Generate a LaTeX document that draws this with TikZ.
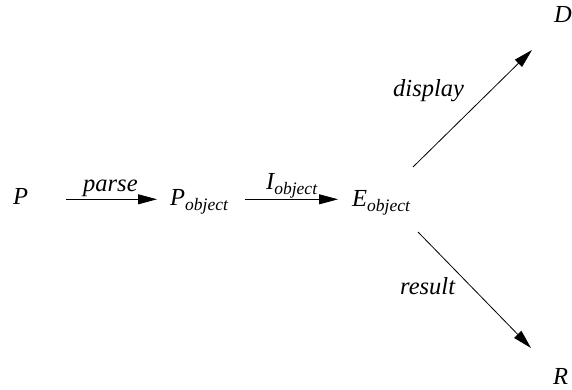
\documentclass[tikz,border=0pt]{standalone}
\usepackage{fontspec}
\setmainfont{Liberation Serif}
\usetikzlibrary{arrows.meta}
\newcommand\subobj[1]{\raisebox{-5pt}{\fontsize{17.5}{20}\selectfont #1}}
\tikzset{
  lbl/.style={anchor=base west, inner sep=0pt, font=\fontsize{24.5}{28}\selectfont\itshape},
  conn/.style={line width=0.8pt, -{Triangle[length=19pt,width=10pt]}}
}
\begin{document}
\begin{tikzpicture}[x=1pt,y=1pt]
\useasboundingbox (0,0) rectangle (572,390);
% nodes
\node[lbl] (P) at (13,185) {P};
\node[lbl] (parse) at (83,198) {parse};
\node[lbl] (Pobj) at (170,184) {P\subobj{object}};
\node[lbl] (Iobj) at (266,200) {I\subobj{object}};
\node[lbl] (Eobj) at (352,183) {E\subobj{object}};
\node[lbl] (display) at (393,293) {display};
\node[lbl] (result) at (400,95) {result};
\node[lbl] (D) at (554,367) {D};
\node[lbl] (R) at (553,5) {R};
% connector end points
\coordinate (a1) at (66,190.7);
\coordinate (a2) at (157,190.7);
\coordinate (b1) at (245,190.7);
\coordinate (b2) at (338,190.7);
\coordinate (c1) at (413,223);
\coordinate (c2) at (532,340);
\coordinate (d1) at (418,158);
\coordinate (d2) at (531,42);
% connectors
\draw[conn] (a1) -- (a2);
\draw[conn] (b1) -- (b2);
\draw[conn] (c1) -- (c2);
\draw[conn] (d1) -- (d2);
\end{tikzpicture}
\end{document}
